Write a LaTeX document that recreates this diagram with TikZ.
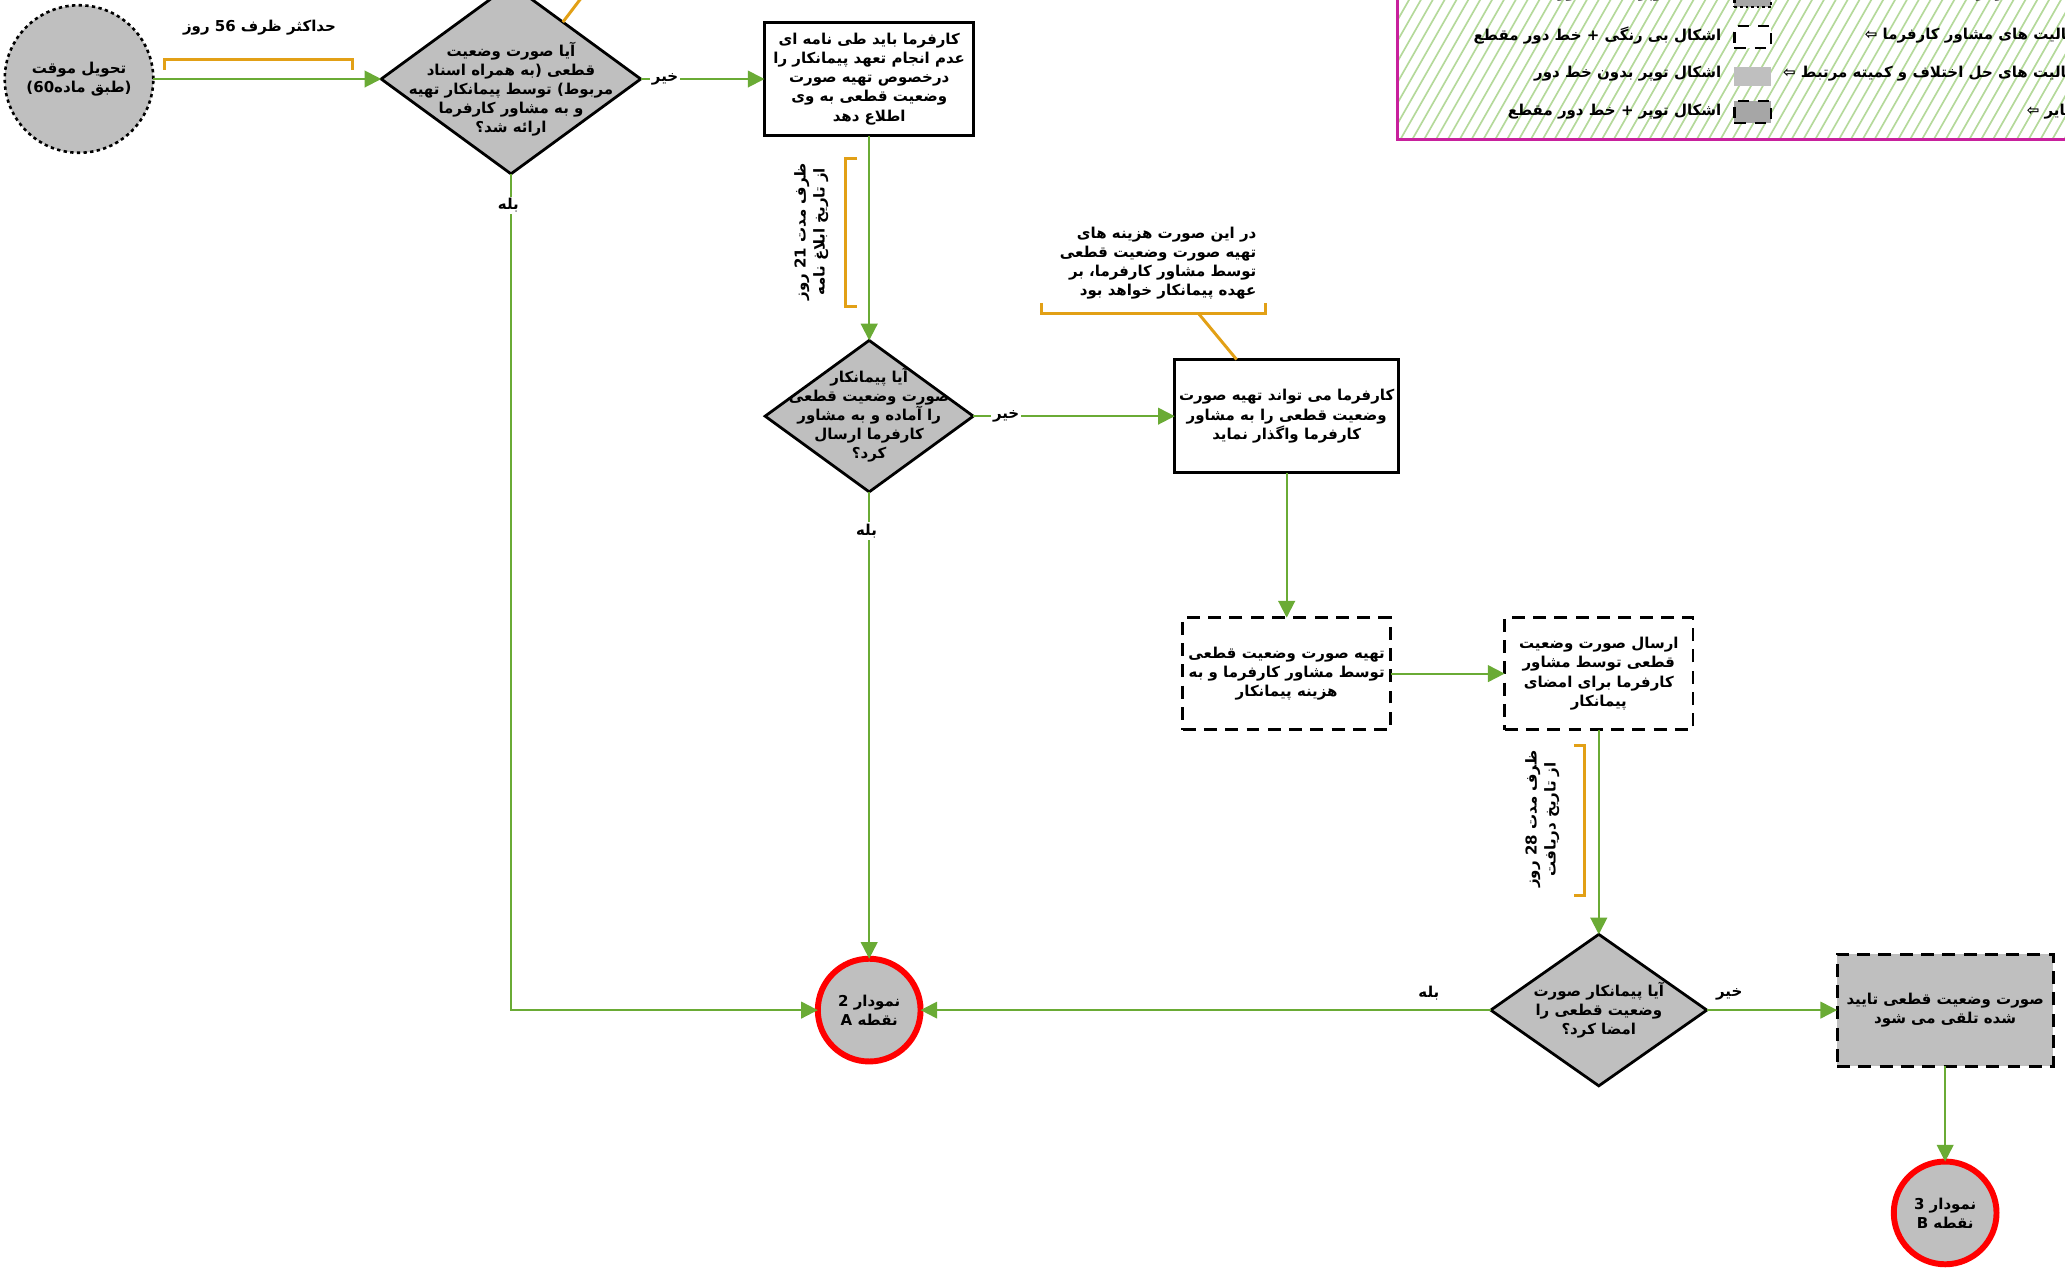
\documentclass[tikz,border=0pt]{standalone}
\usepackage{fontspec}
\usetikzlibrary{shapes.geometric,arrows.meta,calc}
\newfontfamily\arabicfont[Script=Arabic]{DejaVu Sans}
\TeXXeTstate=1
\newcommand\rtlx[1]{\beginR #1\endR}
\definecolor{grn}{HTML}{6AAB35}
\definecolor{org}{HTML}{E2A016}
\definecolor{gry}{HTML}{BFBFBF}
\definecolor{dgry}{HTML}{A6A6A6}
\definecolor{mag}{HTML}{C8209C}
\definecolor{hatchc}{HTML}{B4D99A}
\begin{document}
\begin{tikzpicture}[x=0.025cm,y=-0.025cm,
 every node/.style={font=\arabicfont\bfseries\fontsize{8.1}{10.3}\selectfont,inner sep=0pt,outer sep=0pt},
 txt/.style={align=center},
 arr/.style={draw=grn,line width=1.1pt,-{Triangle[length=9pt,width=9pt]}},
 brk/.style={draw=org,line width=1.6pt},
 boxw/.style={draw=black,line width=1.6pt,fill=white,align=center},
 dboxw/.style={boxw,dash pattern=on 7pt off 4.5pt},
 dia/.style={diamond,draw=black,line width=1.5pt,fill=gry},
 endc/.style={ellipse,draw=red,line width=3.2pt,fill=gry,align=center,minimum width=1.95cm,minimum height=1.95cm},
 lbl/.style={fill=white,inner sep=1pt},
 smp/.style={minimum width=0.7cm,minimum height=0.42cm}]
\useasboundingbox (0,0) rectangle (1568,970);
\clip (0,0) rectangle (1568,970);
% legend
\begin{scope}
\clip (1061,-20) rectangle (1620,106);
\fill[white] (1061,-20) rectangle (1620,106);
\foreach \i in {0,9,...,640} \draw[hatchc,line width=0.9pt] (980+\i,110) -- ++(80,-140);
\end{scope}
\draw[mag,line width=1.6pt] (1061,-20) rectangle (1620,106);
\node[smp,draw=black,line width=1.2pt,dash pattern=on 1.5pt off 1.5pt,fill=dgry] (s0) at (1331,-3) {};
\node[smp,draw=black,line width=1.2pt,dash pattern=on 6pt off 5pt,fill=white] (s1) at (1331,28) {};
\node[smp,fill=gry,minimum height=0.35cm] (s2) at (1331,58) {};
\node[smp,draw=black,line width=1.2pt,dash pattern=on 6pt off 5pt,fill=dgry] (s3) at (1331,85) {};
\node[anchor=east] (t0) at (1307,-5) {\rtlx{اشکال توپر + خط دور نقطه ای}};
\node[anchor=east] (t1) at (1307,27) {\rtlx{اشکال بی رنگی + خط دور مقطع}};
\node[anchor=east] (t2) at (1307,56) {\rtlx{اشکال توپر بدون خط دور}};
\node[anchor=east] (t3) at (1307,85) {\rtlx{اشکال توپر  + خط دور مقطع}};
\node[anchor=west] (r0) at (1476,-5) {\rtlx{فعالیت های کارفرما ⇦}};
\node[anchor=west] (r1) at (1416,27) {\rtlx{فعالیت های مشاور کارفرما ⇦}};
\node[anchor=west] (r2) at (1354,56) {\rtlx{فعالیت های حل اختلاف و کمیته مرتبط ⇦}};
\node[anchor=west] (r3) at (1539,85) {\rtlx{سایر ⇦}};
% main nodes
\node[ellipse,draw=black,line width=1.4pt,dash pattern=on 1.8pt off 1.8pt,fill=gry,align=center,minimum width=2.8cm,minimum height=2.8cm] (e0) at (60,60) {\rtlx{تحویل موقت}\\\rtlx{(طبق ماده60)}};
\node[dia,minimum width=4.925cm,minimum height=3.6cm] (d1) at (388,60) {};
\node[txt] (d1t) at (388,67.5) {\rtlx{آیا صورت وضعیت}\\\rtlx{قطعی  (به همراه اسناد}\\\rtlx{مربوط) توسط پیمانکار تهیه}\\\rtlx{و به مشاور کارفرما}\\\rtlx{ارائه شد؟}};
\node[boxw,minimum width=3.975cm,minimum height=2.15cm] (b1) at (660,60) {\rtlx{کارفرما باید طی نامه ای}\\\rtlx{عدم انجام تعهد پیمانکار را}\\\rtlx{درخصوص  تهیه صورت}\\\rtlx{وضعیت قطعی به وی}\\\rtlx{اطلاع دهد}};
\node[dia,minimum width=3.95cm,minimum height=2.875cm] (d2) at (660,316) {};
\node[txt] (d2t) at (660,315) {\rtlx{آیا پیمانکار}\\\rtlx{صورت وضعیت قطعی}\\\rtlx{را آماده و به مشاور}\\\rtlx{کارفرما ارسال}\\\rtlx{کرد؟}};
\node[boxw,minimum width=4.25cm,minimum height=2.15cm] (b2) at (977,316) {\rtlx{کارفرما می تواند تهیه صورت}\\\rtlx{وضعیت قطعی را به مشاور}\\\rtlx{کارفرما واگذار نماید}};
\node[dboxw,minimum width=3.95cm,minimum height=2.125cm] (b3) at (977,511.5) {\rtlx{تهیه صورت وضعیت قطعی}\\\rtlx{توسط مشاور کارفرما و به}\\\rtlx{هزینه پیمانکار}};
\node[dboxw,minimum width=3.575cm,minimum height=2.125cm] (b4) at (1214,511.5) {\rtlx{ارسال صورت وضعیت}\\\rtlx{قطعی توسط مشاور}\\\rtlx{کارفرما  برای امضای}\\\rtlx{پیمانکار}};
\node[dia,minimum width=4.1cm,minimum height=2.875cm] (d3) at (1214,767) {};
\node[txt] (d3t) at (1214,767) {\rtlx{آیا پیمانکار صورت}\\\rtlx{وضعیت قطعی را}\\\rtlx{امضا کرد؟}};
\node[dboxw,fill=gry,minimum width=4.1cm,minimum height=2.125cm] (b5) at (1477,767) {\rtlx{صورت وضعیت قطعی تایید}\\\rtlx{شده تلقی می شود}};
\node[endc] (ca) at (660,767) {\rtlx{نمودار 2}\\\rtlx{نقطه A}};
\node[endc] (cb) at (1477,921) {\rtlx{نمودار 3}\\\rtlx{نقطه B}};
% connectors
\draw[arr] (e0.east) -- (d1.west);
\draw[arr] (d1.east) -- (b1.west);
\draw[arr] (b1.south) -- (d2.north);
\draw[arr] (d2.east) -- (b2.west);
\draw[arr] (d2.south) -- (ca.north);
\draw[arr] (d1.south) |- (ca.west);
\draw[arr] (b2.south) -- (b3.north);
\draw[arr] (b3.east) -- (b4.west);
\draw[arr] (b4.south) -- (d3.north);
\draw[arr] (d3.west) -- (ca.east);
\draw[arr] (d3.east) -- (b5.west);
\draw[arr] (b5.south) -- (cb.north);
% labels
\node[lbl] (l1) at (505,60) {\rtlx{خیر}};
\node[lbl] (l2) at (764,316) {\rtlx{خیر}};
\node[lbl] (l3) at (386,156) {\rtlx{بله}};
\node[lbl] (l4) at (658,403) {\rtlx{بله}};
\node (l5) at (1085,754) {\rtlx{بله}};
\node (l6) at (1313,755) {\rtlx{خیر}};
% brackets and notes
\draw[brk] (125,53) -- (125,45) -- (268,45) -- (268,53);
\node (n56) at (197,21) {\rtlx{حداکثر ظرف 56 روز}};
\draw[brk] (651,120) -- (642,120) -- (642,233) -- (651,233);
\node[txt,rotate=90] (n21) at (616,176) {\rtlx{ظرف مدت 21 روز}\\\rtlx{از تاریخ ابلاغ نامه}};
\draw[brk] (1195,566) -- (1203,566) -- (1203,680) -- (1195,680);
\node[txt,rotate=90] (n28) at (1171,622) {\rtlx{ظرف مدت 28 روز}\\\rtlx{از تاریخ دریافت}};
\node[align=right,anchor=east] (nann) at (954,200) {\rtlx{در این صورت هزینه های}\\\rtlx{تهیه صورت وضعیت قطعی}\\\rtlx{توسط مشاور کارفرما، بر}\\\rtlx{عهده پیمانکار خواهد بود}};
\draw[brk] (791,230) -- (791,238) -- (961,238) -- (961,230);
\coordinate (annp) at (910,238);
\path (b2.north west) ++(47,0) coordinate (b2p);
\draw[brk] (annp) -- (b2p);
\coordinate (d1p) at ($(d1.north)!0.4!(d1.east)$);
\coordinate (topc) at (444,-5);
\draw[brk] (d1p) -- (topc);
\end{tikzpicture}
\end{document}
